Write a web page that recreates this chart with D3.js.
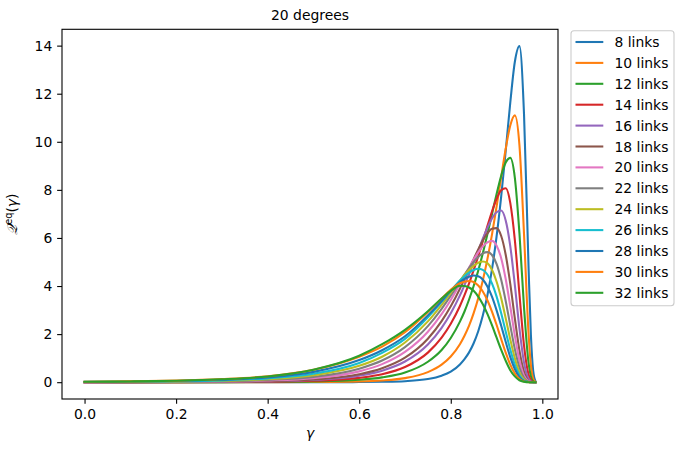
<!DOCTYPE html>
<html>
<head>
<meta charset="utf-8">
<script src="https://cdn.jsdelivr.net/npm/d3@7"></script>
<style>
  html, body { margin: 0; padding: 0; background: #fff; }
  svg { display: block; font-family: "DejaVu Sans", sans-serif; }
</style>
</head>
<body>
<svg id="chart" width="684" height="453"></svg>
<script>
// ---- data ----
const gamma = [0, 0.1, 0.2, 0.3, 0.4, 0.5, 0.6, 0.65, 0.7, 0.75, 0.78, 0.8, 0.82, 0.83, 0.84, 0.85, 0.86, 0.87, 0.88, 0.89, 0.9, 0.91, 0.92, 0.93, 0.94, 0.95, 0.96, 0.97, 0.975, 0.98, 0.985];
const linkCounts = [8, 10, 12, 14, 16, 18, 20, 22, 24, 26, 28, 30, 32];
const q8  = [0, 0, 0, 0, 0.0002, 0.0009, 0.005, 0.015, 0.042, 0.13, 0.27, 0.44, 0.74, 0.96, 1.24, 1.62, 2.12, 2.77, 3.61, 4.69, 6.05, 7.70, 9.62, 11.63, 13.33, 13.98, 11.16, 4.74, 1.98, 0.48, 0.04];
const q10 = [0, 0, 0.0002, 0.0007, 0.002, 0.008, 0.033, 0.073, 0.17, 0.42, 0.73, 1.07, 1.58, 1.93, 2.35, 2.87, 3.49, 4.23, 5.12, 6.14, 7.29, 8.51, 9.71, 10.68, 11.1, 9.86, 6.17, 2.00, 0.72, 0.15, 0.01];
const q12 = [0, 0, 0.001, 0.003, 0.009, 0.029, 0.10, 0.20, 0.40, 0.85, 1.34, 1.84, 2.52, 2.94, 3.44, 4.00, 4.64, 5.36, 6.15, 6.99, 7.82, 8.58, 9.14, 9.33, 8.50, 6.20, 3.12, 0.79, 0.25, 0.04, 0];
const q14 = [0, 0.001, 0.003, 0.008, 0.02, 0.057, 0.18, 0.33, 0.63, 1.23, 1.85, 2.43, 3.17, 3.62, 4.11, 4.66, 5.24, 5.86, 6.49, 7.10, 7.62, 7.98, 8.07, 7.46, 5.91, 3.67, 1.53, 0.31, 0.085, 0.01, 0];
const q16 = [0.001, 0.003, 0.006, 0.014, 0.035, 0.093, 0.27, 0.48, 0.86, 1.57, 2.26, 2.87, 3.61, 4.04, 4.50, 4.98, 5.47, 5.97, 6.42, 6.81, 7.07, 7.14, 6.73, 5.66, 4.04, 2.24, 0.82, 0.14, 0.04, 0, 0];
const q18 = [0.002, 0.003, 0.007, 0.017, 0.043, 0.11, 0.33, 0.58, 1.02, 1.81, 2.54, 3.16, 3.89, 4.29, 4.70, 5.12, 5.52, 5.89, 6.19, 6.38, 6.41, 6.09, 5.30, 4.09, 2.65, 1.32, 0.43, 0.06, 0.015, 0, 0];
const q20 = [0.003, 0.006, 0.013, 0.029, 0.069, 0.17, 0.45, 0.75, 1.26, 2.10, 2.83, 3.42, 4.08, 4.43, 4.77, 5.10, 5.40, 5.65, 5.82, 5.88, 5.69, 5.17, 4.29, 3.15, 1.93, 0.91, 0.27, 0.04, 0.01, 0, 0];
const q22 = [0.005, 0.01, 0.02, 0.042, 0.095, 0.22, 0.56, 0.90, 1.46, 2.33, 3.05, 3.60, 4.18, 4.48, 4.75, 5.00, 5.21, 5.36, 5.41, 5.29, 4.92, 4.27, 3.38, 2.36, 1.37, 0.61, 0.17, 0.02, 0, 0, 0];
const q24 = [0.007, 0.014, 0.028, 0.058, 0.125, 0.29, 0.68, 1.06, 1.65, 2.53, 3.22, 3.72, 4.22, 4.46, 4.67, 4.84, 4.97, 5.02, 4.95, 4.68, 4.19, 3.50, 2.66, 1.78, 0.99, 0.41, 0.11, 0.01, 0, 0, 0];
const q26 = [0.01, 0.019, 0.038, 0.077, 0.16, 0.35, 0.80, 1.22, 1.80, 2.70, 3.34, 3.80, 4.23, 4.41, 4.56, 4.67, 4.72, 4.67, 4.48, 4.11, 3.57, 2.88, 2.11, 1.36, 0.72, 0.29, 0.07, 0.01, 0, 0, 0];
const q28 = [0.014, 0.026, 0.05, 0.099, 0.20, 0.43, 0.92, 1.33, 1.91, 2.78, 3.38, 3.80, 4.16, 4.30, 4.39, 4.44, 4.41, 4.27, 3.98, 3.56, 3.00, 2.36, 1.68, 1.04, 0.54, 0.21, 0.05, 0.01, 0, 0, 0];
const q30 = [0.019, 0.034, 0.064, 0.13, 0.25, 0.52, 1.06, 1.48, 2.08, 2.92, 3.48, 3.84, 4.12, 4.18, 4.21, 4.17, 4.02, 3.77, 3.41, 2.94, 2.39, 1.80, 1.23, 0.73, 0.36, 0.13, 0.03, 0, 0, 0, 0];
const q32 = [0.017, 0.032, 0.06, 0.12, 0.24, 0.52, 1.10, 1.58, 2.18, 2.95, 3.48, 3.80, 4.01, 4.00, 3.94, 3.80, 3.56, 3.24, 2.84, 2.37, 1.86, 1.35, 0.89, 0.50, 0.24, 0.08, 0.02, 0, 0, 0, 0];
const seriesValues = [q8, q10, q12, q14, q16, q18, q20, q22, q24, q26, q28, q30, q32];
const xTicks = [0, 0.2, 0.4, 0.6, 0.8, 1.0];
const yTicks = [0, 2, 4, 6, 8, 10, 12, 14];
const titleText = "20 degrees";

// ---- layout ----
const svg = d3.select("#chart");
const plot = { left: 62, right: 558, top: 29.3, bottom: 399 };
const colors = ["#1f77b4", "#ff7f0e", "#2ca02c", "#d62728", "#9467bd", "#8c564b", "#e377c2", "#7f7f7f", "#bcbd22", "#17becf"];
const fs = 13.9;

const xMin = d3.min(gamma), xMax = d3.max(gamma);
const yMax = d3.max(seriesValues.flat()), yMin = 0;
const xPad = (xMax - xMin) * 0.05, yPad = (yMax - yMin) * 0.05;
const x = d3.scaleLinear().domain([xMin - xPad, xMax + xPad]).range([plot.left, plot.right]);
const y = d3.scaleLinear().domain([yMin - yPad, yMax + yPad]).range([plot.bottom, plot.top]);

// curves
svg.append("clipPath").attr("id", "clip").append("rect")
  .attr("x", plot.left).attr("y", plot.top)
  .attr("width", plot.right - plot.left).attr("height", plot.bottom - plot.top);
const line = d3.line().x(d => x(d[0])).y(d => y(d[1])).curve(d3.curveMonotoneX);
const g = svg.append("g").attr("clip-path", "url(#clip)");
seriesValues.forEach((vals, i) => {
  g.append("path")
    .datum(gamma.map((gm, j) => [gm, vals[j]]))
    .attr("d", line)
    .attr("fill", "none")
    .attr("stroke", colors[i % 10])
    .attr("stroke-width", 2.08)
    .attr("stroke-linejoin", "round")
    .attr("stroke-linecap", "square");
});

// axes
const xAxis = d3.axisBottom(x).tickValues(xTicks).tickFormat(d3.format(".1f")).tickSize(4.86).tickPadding(4.86);
const yAxis = d3.axisLeft(y).tickValues(yTicks).tickFormat(d3.format("d")).tickSize(4.86).tickPadding(4.86);
const gx = svg.append("g").attr("transform", `translate(0,${plot.bottom})`).call(xAxis);
const gy = svg.append("g").attr("transform", `translate(${plot.left},0)`).call(yAxis);
[gx, gy].forEach(a => {
  a.select(".domain").remove();
  a.selectAll(".tick line").attr("stroke", "#000").attr("stroke-width", 1.1);
  a.selectAll(".tick text").attr("fill", "#000").attr("font-size", fs).attr("font-family", "DejaVu Sans");
});

// spines
svg.append("rect")
  .attr("x", plot.left).attr("y", plot.top)
  .attr("width", plot.right - plot.left).attr("height", plot.bottom - plot.top)
  .attr("fill", "none").attr("stroke", "#000").attr("stroke-width", 1.1);

// title
svg.append("text").attr("x", (plot.left + plot.right) / 2).attr("y", 19.5)
  .attr("text-anchor", "middle").attr("font-size", fs).text(titleText);

// x label
svg.append("text").attr("x", (plot.left + plot.right) / 2).attr("y", 438)
  .attr("text-anchor", "middle").attr("font-size", fs)
  .attr("font-style", "italic").text("γ");

// y label
const yl = svg.append("text")
  .attr("transform", `translate(17,${(plot.top + plot.bottom) / 2}) rotate(-90)`)
  .attr("text-anchor", "middle").attr("font-size", fs);
yl.append("tspan").attr("font-style", "italic").text("𝒬");
yl.append("tspan").attr("font-size", fs * 0.7).attr("dy", -5).text("eq");
yl.append("tspan").attr("dy", 5).text("(");
yl.append("tspan").attr("font-style", "italic").text("γ");
yl.append("tspan").text(")");

// legend
const lg = svg.append("g");
lg.append("rect").attr("x", 571).attr("y", 30.7).attr("width", 103).attr("height", 275)
  .attr("rx", 3).attr("fill", "#fff").attr("fill-opacity", 0.8)
  .attr("stroke", "#cccccc").attr("stroke-width", 1.1);
linkCounts.forEach((n, i) => {
  const cy = 42 + i * 20.9;
  lg.append("line").attr("x1", 575.5).attr("x2", 603.3).attr("y1", cy).attr("y2", cy)
    .attr("stroke", colors[i % 10]).attr("stroke-width", 2.08);
  lg.append("text").attr("x", 614.5).attr("y", cy + 5).attr("font-size", fs)
    .text(`${n} links`);
});
</script>
</body>
</html>
